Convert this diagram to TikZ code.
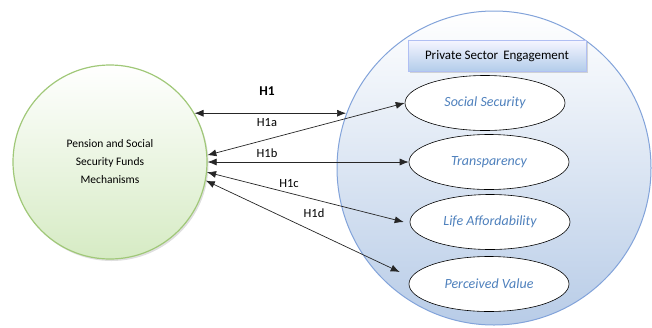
\documentclass[tikz,border=0pt]{standalone}
\usepackage{fontspec}
\setmainfont{Carlito}
\usetikzlibrary{shapes.geometric,arrows.meta,shadows}

\definecolor{greenline}{RGB}{160,200,120}
\definecolor{greenfill}{RGB}{214,235,196}
\definecolor{blueline}{RGB}{130,163,218}
\definecolor{bluefill}{RGB}{184,204,231}
\definecolor{boxfill}{RGB}{178,204,234}
\definecolor{itemtext}{RGB}{79,129,189}

\begin{document}
\begin{tikzpicture}[x=1pt,y=-1pt,
    every path/.style={>={Latex[length=9pt,width=7pt]}},
    mainnode/.style={circle,draw=greenline,line width=1.2pt,top color=white,bottom color=greenfill,
      minimum size=194pt,inner sep=0pt,align=center,font=\fontsize{11.5}{18}\selectfont,
      drop shadow={opacity=0.25,shadow xshift=1.5pt,shadow yshift=-2pt}},
    groupnode/.style={circle,draw=blueline,line width=1pt,top color=white,bottom color=bluefill,
      minimum size=314pt,inner sep=0pt},
    titlebox/.style={rectangle,draw=boxfill!80!blue!70,line width=0.6pt,top color=blue!4,bottom color=boxfill,
      minimum width=178pt,minimum height=31pt,font=\fontsize{13}{15}\selectfont,
      drop shadow={opacity=0.3,shadow xshift=1.5pt,shadow yshift=-1.5pt}},
    item/.style={ellipse,draw,line width=0.6pt,fill=white,minimum width=160pt,minimum height=55pt,
      inner sep=0pt,text=itemtext,font=\fontsize{14}{16}\selectfont\itshape},
    link/.style={<->,line width=0.7pt,draw=black!85},
    hlabel/.style={font=\fontsize{12.5}{14}\selectfont}]
  \useasboundingbox (0,0) rectangle (652,327);

  \node[groupnode] (sector) at (494,168) {};
  \node[titlebox]  (title)  at (497,56)  {Private Sector\ \,Engagement};
  \node[item]      (social) at (485,103) {Social Security};
  \node[item]      (transp) at (489,162) {Transparency};
  \node[item]      (afford) at (490,222) {Life Affordability};
  \node[item]      (value)  at (489,284) {Perceived Value};

  \node[mainnode]  (pension) at (110,162) {Pension and Social\\Security Funds\\Mechanisms};

  \draw[link] (pension.30) -- (pension.30 -| sector.160);
  \draw[link] (pension.4)   -- (social.west);
  \draw[link] (pension.0)   -- (transp.west);
  \draw[link] (pension.-6)  -- ([xshift=-6pt]afford.west);
  \draw[link] (pension.-11) -- ([shift={(-9pt,12pt)}]value.west);

  \node[hlabel,font=\fontsize{13.5}{15}\selectfont\bfseries] (h1) at (267,91) {H1};
  \node[hlabel] (h1a) at (267,123) {H1a};
  \node[hlabel] (h1b) at (267,153) {H1b};
  \node[hlabel] (h1c) at (289,184) {H1c};
  \node[hlabel] (h1d) at (314,213) {H1d};
\end{tikzpicture}
\end{document}
